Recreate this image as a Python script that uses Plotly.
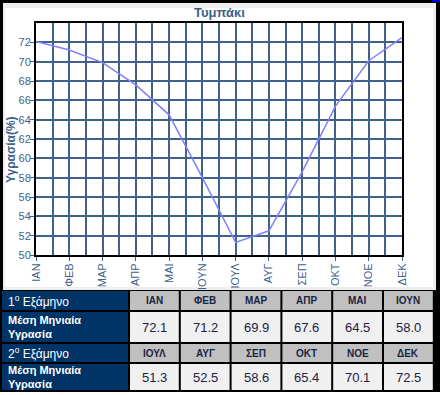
import plotly.graph_objects as go

# ---- data ----
months = ["ΙΑΝ", "ΦΕΒ", "ΜΑΡ", "ΑΠΡ", "ΜΑΙ", "ΙΟΥΝ", "ΙΟΥΛ", "ΑΥΓ", "ΣΕΠ", "ΟΚΤ", "ΝΟΕ", "ΔΕΚ"]
humidity = [72.1, 71.2, 69.9, 67.6, 64.5, 58.0, 51.3, 52.5, 58.6, 65.4, 70.1, 72.5]
semester_labels = ["1<sup>ο</sup> Εξάμηνο", "2<sup>ο</sup> Εξάμηνο"]
row_label = "<b>Μέση Μηνιαία<br>Υγρασία</b>"
title_text = "Τυμπάκι"
y_title = "Υγρασία(%)"
y_ticks = list(range(50, 74, 2))

# ---- styling ----
W, H = 440, 395
STEEL = "#40618A"
NAVY = "#003366"
HEAD_GRAY = "#C0C0C0"
CELL_GRAY = "#F0F0F0"
TICK_FONT = dict(family="Liberation Sans Narrow, Liberation Sans, Arial", size=11, color=STEEL)


def px(x):
    return x / W


def py(y):
    return 1 - y / H


fig = go.Figure()
fig.add_trace(go.Scatter(
    x=list(range(len(months))), y=humidity, mode="lines",
    line=dict(color="#8080FF", width=1.5),
    xaxis="x", yaxis="y", hoverinfo="skip", showlegend=False))
fig.add_trace(go.Scatter(x=[None], y=[None], xaxis="x2", yaxis="y2",
                         showlegend=False, hoverinfo="skip"))

shapes = []
annotations = []


def prect(x0, y0, x1, y1, color):
    shapes.append(dict(type="rect", xref="paper", yref="paper", layer="below",
                       x0=px(x0), x1=px(x1), y0=py(y1), y1=py(y0),
                       fillcolor=color, line=dict(width=0)))


# frame of the chart picture + black table background
prect(0, 0, 440, 392, "black")
prect(3, 3, 436, 290, "#EEEEEE")
prect(5, 8, 433, 287, "white")
prect(432, 0, 440, 2, "#0000CC")

# ---- table (drawn on a hidden pixel-scaled axis pair) ----
rows = [(291, 310), (312, 342), (344, 362), (364, 390)]
first_col = (2, 128)
col_start, col_pitch, col_w = 130, 50.8, 48.8
per_sem = 6


def crect(x0, y0, x1, y1, color):
    shapes.append(dict(type="rect", xref="x2", yref="y2", layer="above",
                       x0=x0, x1=x1, y0=y0, y1=y1,
                       fillcolor=color, line=dict(width=0)))


for s in range(2):
    hy0, hy1 = rows[2 * s]
    vy0, vy1 = rows[2 * s + 1]
    crect(first_col[0], hy0, first_col[1], hy1, NAVY)
    crect(first_col[0], vy0, first_col[1], vy1, NAVY)
    annotations.append(dict(xref="x2", yref="y2", x=6, y=(hy0 + hy1) / 2,
                            xanchor="left", yanchor="middle", showarrow=False,
                            text=semester_labels[s],
                            font=dict(family="Liberation Sans, Arial", size=12, color="white")))
    annotations.append(dict(xref="x2", yref="y2", x=6, y=(vy0 + vy1) / 2,
                            xanchor="left", yanchor="middle", showarrow=False,
                            align="left", text=row_label,
                            font=dict(family="Liberation Sans, Arial", size=11, color="white")))
    for i in range(per_sem):
        m = s * per_sem + i
        x0 = col_start + i * col_pitch
        x1 = x0 + col_w
        crect(x0, hy0, x1, hy1, HEAD_GRAY)
        crect(x0, vy0, x1, vy1, CELL_GRAY)
        annotations.append(dict(xref="x2", yref="y2", x=(x0 + x1) / 2, y=(hy0 + hy1) / 2,
                                xanchor="center", yanchor="middle", showarrow=False,
                                text="<b>%s</b>" % months[m],
                                font=dict(family="Liberation Sans, Arial", size=10, color="#1A2440")))
        annotations.append(dict(xref="x2", yref="y2", x=(x0 + x1) / 2, y=(vy0 + vy1) / 2,
                                xanchor="center", yanchor="middle", showarrow=False,
                                text="%.1f" % humidity[m],
                                font=dict(family="Liberation Sans, Arial", size=13, color="#222244")))

# titles
annotations.append(dict(xref="paper", yref="paper", x=px(219), y=py(12.5),
                        xanchor="center", yanchor="middle", showarrow=False,
                        text="<b>%s</b>" % title_text,
                        font=dict(family="Liberation Sans, Arial", size=13, color=STEEL)))
annotations.append(dict(xref="paper", yref="paper", x=px(11), y=py(150),
                        xanchor="center", yanchor="middle", showarrow=False,
                        textangle=-90, text="<b>%s</b>" % y_title,
                        font=dict(family="Liberation Sans, Arial", size=12, color=STEEL)))

fig.update_layout(
    width=W, height=H, template="none",
    margin=dict(l=0, r=0, t=0, b=0, pad=0),
    paper_bgcolor="white", plot_bgcolor="white",
    showlegend=False,
    shapes=shapes, annotations=annotations,
    xaxis=dict(domain=[px(36), px(402)], range=[0, len(months) - 1], anchor="y",
               tickmode="array", tickvals=list(range(len(months))), ticktext=months,
               tickangle=-90, ticks="outside", ticklen=4, tickwidth=1, tickcolor=STEEL,
               tickfont=TICK_FONT, automargin=False, ticklabelstandoff=-2,
               showgrid=True, gridcolor=STEEL, gridwidth=1.5,
               minor=dict(dtick=0.5, tick0=0, showgrid=True, gridcolor=STEEL,
                          gridwidth=1.5, ticks=""),
               showline=True, linecolor="black", linewidth=2, mirror=True,
               zeroline=False, fixedrange=True),
    yaxis=dict(domain=[py(255), py(23)], range=[50, 74], anchor="x",
               tickmode="array", tickvals=y_ticks,
               ticks="outside", ticklen=4, tickwidth=1, tickcolor=STEEL,
               tickfont=TICK_FONT, automargin=False, ticklabelstandoff=-3,
               showgrid=True, gridcolor=STEEL, gridwidth=1.5,
               showline=True, linecolor="black", linewidth=2, mirror=True,
               zeroline=False, fixedrange=True),
    xaxis2=dict(domain=[0, 1], range=[0, W], anchor="y2", visible=False,
                fixedrange=True),
    yaxis2=dict(domain=[0, py(289)], range=[H, 289], anchor="x2", visible=False,
                fixedrange=True),
)

fig.write_html("out.html", config={"displayModeBar": False},
               post_script="document.body.style.margin='0';document.body.style.overflow='hidden';")
